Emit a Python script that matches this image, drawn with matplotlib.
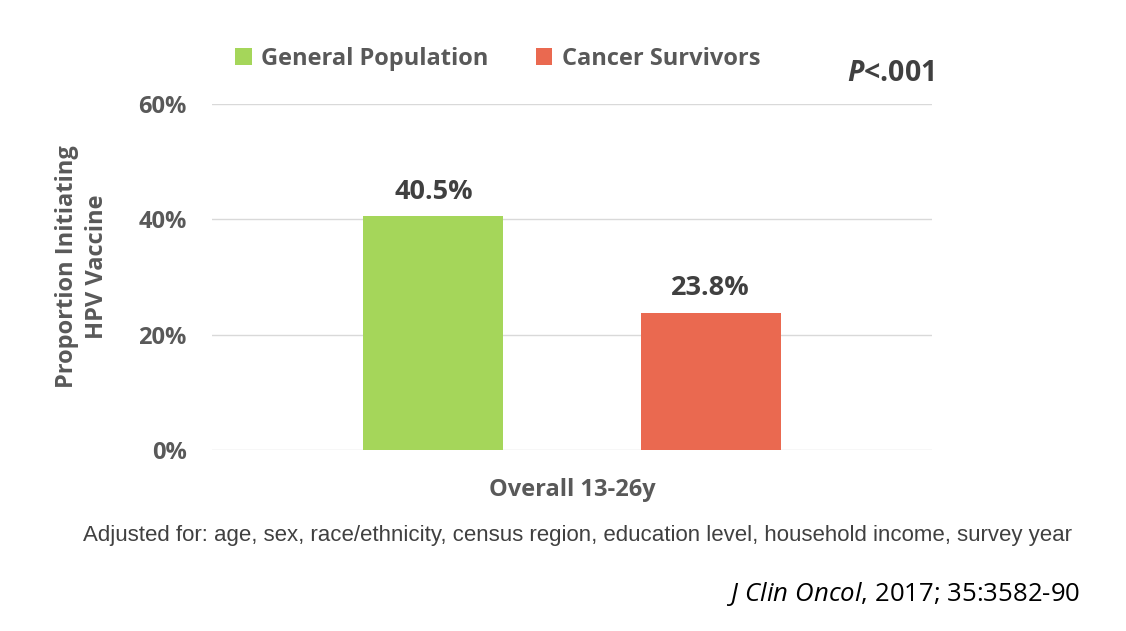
import matplotlib
matplotlib.use('Agg')
import matplotlib.pyplot as plt
from matplotlib.patches import Patch

# data
groups = ['General Population', 'Cancer Survivors']
values = [40.5, 23.8]
colors = ['#A5D65A', '#EA6950']
category = 'Overall 13-26y'
yticks = [0, 20, 40, 60]

plt.rcParams['font.family'] = ['Open Sans', 'DejaVu Sans']
plt.rcParams['mathtext.fontset'] = 'custom'
plt.rcParams['mathtext.it'] = 'Open Sans:italic'
plt.rcParams['mathtext.bf'] = 'Open Sans:bold'
plt.rcParams['mathtext.bfit'] = 'Open Sans:bold:italic'
plt.rcParams['mathtext.rm'] = 'Open Sans'
grey = '#595959'

fig = plt.figure(figsize=(11.26, 6.31), dpi=100)
ax = fig.add_axes([0.188, 0.287, 0.64, 0.548])

xs = list(range(len(values)))
ax.bar(xs, values, width=0.505, color=colors, zorder=3)
for x, v in zip(xs, values):
    ax.text(x, v + 2.0, '%.1f%%' % v, ha='center', va='bottom',
            fontsize=19.5, fontweight='bold', color='#404040')

ax.set_xlim(-0.8, 1.8)
ax.set_ylim(0, 60)
ax.set_yticks(yticks)
ax.set_yticklabels(['%d%%' % t for t in yticks], fontsize=17,
                   fontweight='bold', color=grey)
ax.set_xticks([])
ax.grid(axis='y', color='#D9D9D9', linewidth=1, zorder=0)
ax.tick_params(axis='y', length=0, pad=18)
for s in ax.spines.values():
    s.set_visible(False)

ax.set_ylabel('Proportion Initiating\nHPV Vaccine', fontsize=17,
              fontweight='bold', color=grey, linespacing=1.3)
ax.yaxis.set_label_coords(-0.143, 0.529)
ax.set_xlabel(category, fontsize=17, fontweight='bold', color=grey, labelpad=20)

handles = [Patch(facecolor=c) for c in colors]
leg = fig.legend(handles, groups, loc='center', bbox_to_anchor=(0.442, 0.907),
                 ncol=2, frameon=False, fontsize=17, handlelength=0.7,
                 handleheight=0.7, handletextpad=0.4, columnspacing=2.0)
for t in leg.get_texts():
    t.set_color(grey)
    t.set_fontweight('bold')

fig.text(0.83, 0.884, r'$\bfit{P}$<.001', ha='right', va='center', fontsize=20.5,
         fontweight='bold', color='#404040')

fig.text(0.513, 0.151, 'Adjusted for: age, sex, race/ethnicity, census region, '
         'education level, household income, survey year',
         ha='center', va='center', fontsize=16, color='#404040',
         family='Liberation Sans')

fig.text(0.959, 0.059, r'$\it{J\ Clin\ Oncol}$, 2017; 35:3582-90',
         ha='right', va='center', fontsize=18.5, color='black')

fig.savefig('out.png', dpi=100)
